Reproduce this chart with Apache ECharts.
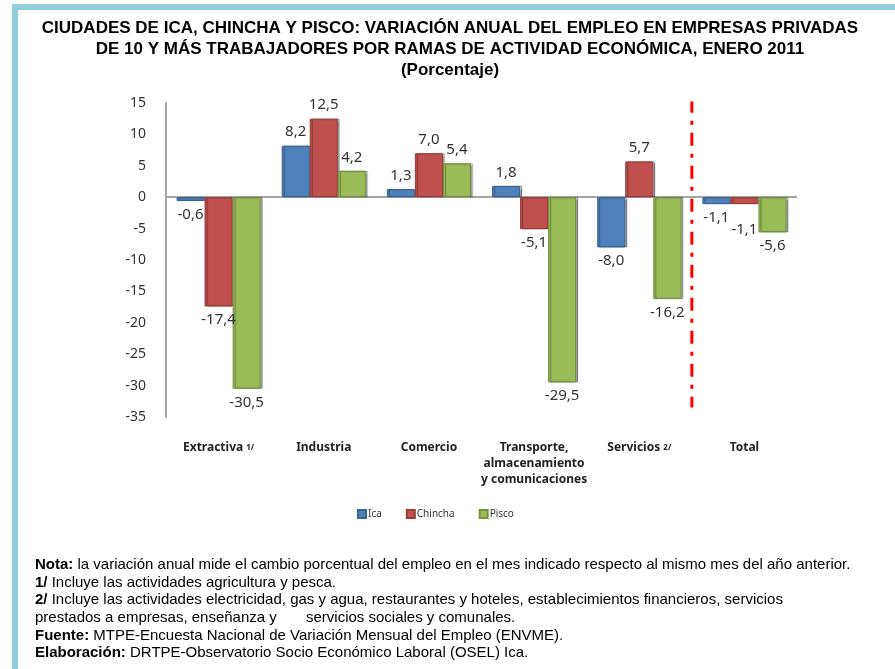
<!DOCTYPE html>
<html>
<head>
<meta charset="utf-8">
<script src="https://cdn.jsdelivr.net/npm/echarts@6/dist/echarts.min.js"></script>
<style>
html,body{margin:0;padding:0;background:#fff;}
#chart{position:absolute;left:0;top:0;width:895px;height:669px;}
</style>
</head>
<body>
<div id="chart"></div>
<script>
const categories = ['Extractiva 1/', 'Industria', 'Comercio', 'Transporte,\nalmacenamiento\ny comunicaciones', 'Servicios 2/', 'Total'];
const seriesNames = ['Ica', 'Chincha', 'Pisco'];
const ica = [-0.6, 8.2, 1.3, 1.8, -8.0, -1.1];
const chincha = [-17.4, 12.5, 7.0, -5.1, 5.7, -1.1];
const pisco = [-30.5, 4.2, 5.4, -29.5, -16.2, -5.6];
const yTicks = {min: -35, max: 15, interval: 5};
const dividerAt = 5; // boundary between Servicios and Total (category units)
const dividerSpan = [15.5, -33.5];

const colors = ['#4F81BD', '#C0504D', '#9BBB59'];
const borders = ['#3A6597', '#9A3B38', '#76923C'];

const chart = echarts.init(document.getElementById('chart'), null, {renderer: 'canvas'});

function fmt(v){ return v.toFixed(1).replace('.', ','); }

function mkSeries(name, vals, i){
  return {
    name: name,
    type: 'bar',
    barGap: '0%',
    barCategoryGap: '20%',
    itemStyle: {color: colors[i], borderColor: borders[i], borderWidth: 1,
      shadowColor: 'rgba(0,0,0,0.35)', shadowOffsetX: 2, shadowOffsetY: 0, shadowBlur: 1},
    data: vals.map((v, j) => ({
      value: v,
      label: {show: true, position: v < 0 ? 'bottom' : 'top', distance: 6,
        offset: (i === 1 && j === 5) ? [0, 12] : [0, 0],
        formatter: () => fmt(v), color: '#333', fontSize: 15, fontFamily: 'Noto Sans'}
    })),
    z: 3
  };
}

const series = [mkSeries('Ica', ica, 0), mkSeries('Chincha', chincha, 1), mkSeries('Pisco', pisco, 2)];
series[0].markLine = {
  silent: true, symbol: 'none', label: {show: false},
  lineStyle: {color: '#A6A6A6', width: 2, type: 'solid'},
  data: [{yAxis: 0}], z: 1
};
series.push({
  type: 'line', xAxisIndex: 1, yAxisIndex: 0, silent: true,
  symbol: 'none', z: 5,
  lineStyle: {color: '#FF0000', width: 3, type: [13, 8, 4, 8]},
  data: [[dividerAt, dividerSpan[0]], [dividerAt, dividerSpan[1]]]
});

const option = {
  animation: false,
  backgroundColor: '#fff',
  title: [{
    text: 'CIUDADES DE ICA, CHINCHA Y PISCO: VARIACIÓN ANUAL DEL EMPLEO EN EMPRESAS PRIVADAS\nDE 10 Y MÁS TRABAJADORES POR RAMAS DE ACTIVIDAD ECONÓMICA, ENERO 2011\n(Porcentaje)',
    left: 445, top: 13, textAlign: 'center',
    textStyle: {fontFamily: 'Liberation Sans', fontWeight: 'bold', fontSize: 17, lineHeight: 21, color: '#000'}
  }, {
    text: '{b|Nota:} la variación anual mide el cambio porcentual del empleo en el mes indicado respecto al mismo mes del año anterior.\n' +
          '{b|1/} Incluye las actividades agricultura y pesca.\n' +
          '{b|2/} Incluye las actividades electricidad, gas y agua, restaurantes y hoteles, establecimientos financieros, servicios\n' +
          'prestados a empresas, enseñanza y       servicios sociales y comunales.\n' +
          '{b|Fuente:} MTPE-Encuesta Nacional de Variación Mensual del Empleo (ENVME).\n' +
          '{b|Elaboración:} DRTPE-Observatorio Socio Económico Laboral (OSEL) Ica.',
    left: 30, top: 551,
    textStyle: {fontFamily: 'Liberation Sans', fontWeight: 'normal', fontSize: 15, lineHeight: 17.7, color: '#000',
      rich: {b: {fontFamily: 'Liberation Sans', fontWeight: 'bold', fontSize: 15, lineHeight: 17.7, color: '#000'}}}
  }],
  legend: {
    data: seriesNames, left: 352, top: 504,
    itemWidth: 8, itemHeight: 8, itemGap: 24, icon: 'rect',
    textStyle: {fontSize: 10, color: '#333', fontFamily: 'Noto Sans', padding: [0,0,0,-3]}
  },
  grid: {left: 166, right: 98, top: 103, bottom: 252},
  xAxis: [{
    type: 'category', data: categories,
    axisLine: {show: false, onZero: false}, axisTick: {show: false},
    axisLabel: {
      margin: 23, interval: 0, color: '#222', fontWeight: 'bold', fontSize: 12, fontFamily: 'Noto Sans', lineHeight: 16,
      formatter: function(v){
        const m = v.match(/^(.*) (\d\/)$/);
        if (m) return m[1] + ' {s|' + m[2] + '}';
        return v;
      },
      rich: {s: {fontSize: 8, fontFamily: 'Noto Sans', color: '#222'}}
    }
  }, {
    type: 'value', min: 0, max: categories.length, show: false
  }],
  yAxis: {
    type: 'value', min: yTicks.min, max: yTicks.max, interval: yTicks.interval,
    axisLine: {show: true, lineStyle: {color: '#A6A6A6', width: 2}},
    axisTick: {show: false}, splitLine: {show: false},
    axisLabel: {margin: 20, color: '#333', fontSize: 14, fontFamily: 'Noto Sans'}
  },
  graphic: [
    {type: 'rect', shape: {x: 12, y: 4, width: 883, height: 6}, style: {fill: '#92CDDC'}, silent: true},
    {type: 'rect', shape: {x: 12, y: 4, width: 6, height: 665}, style: {fill: '#92CDDC'}, silent: true}
  ],
  series: series
};
chart.setOption(option);
</script>
</body>
</html>
